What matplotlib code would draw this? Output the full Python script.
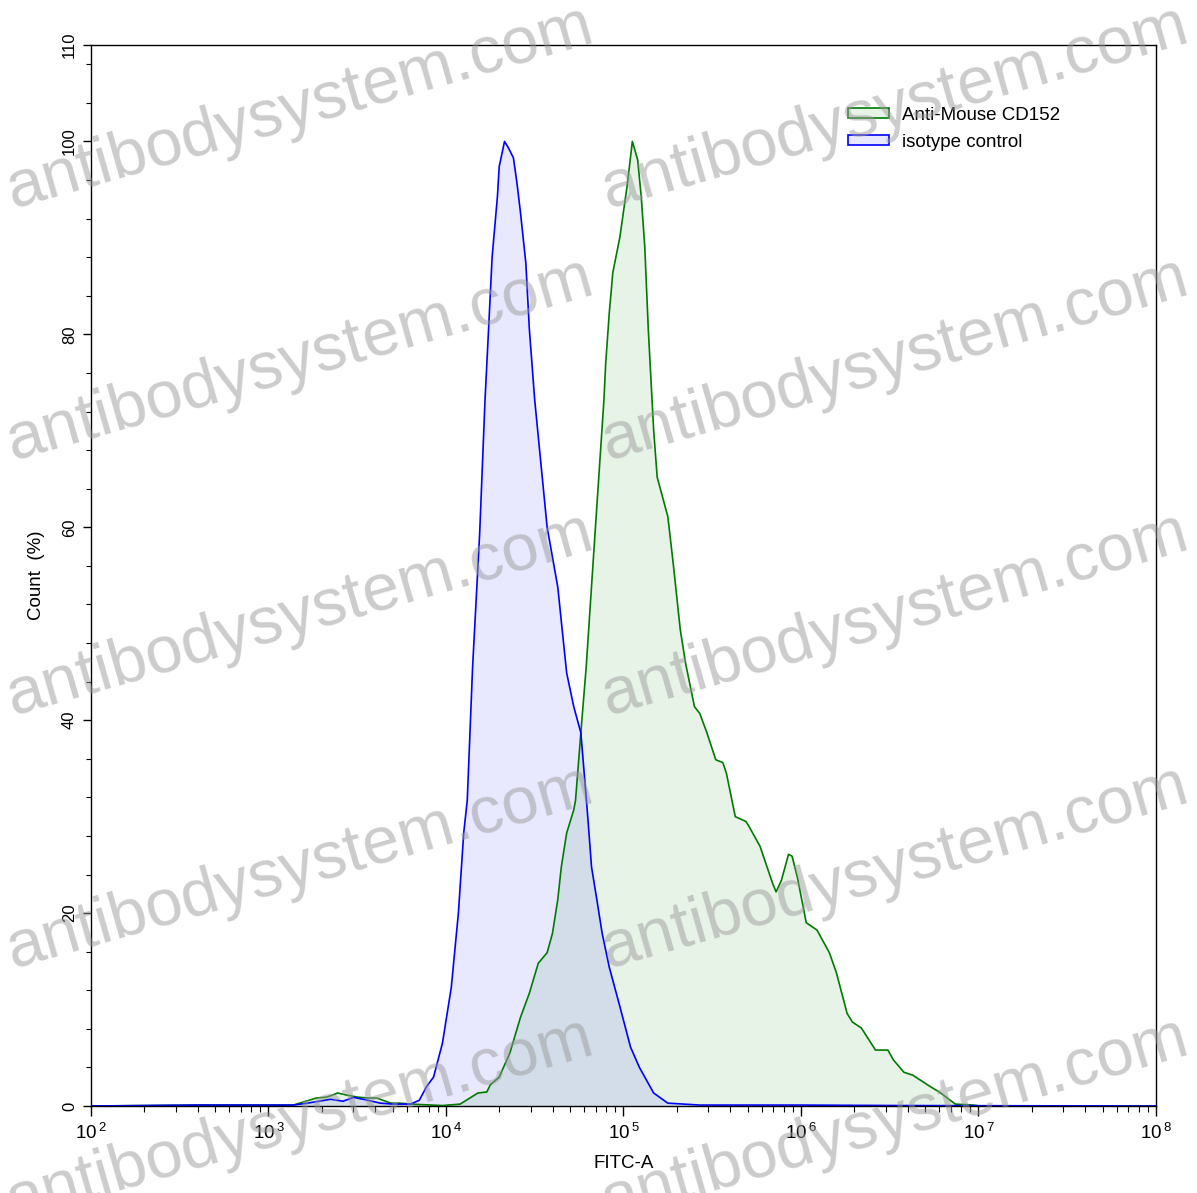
import matplotlib
matplotlib.use("Agg")
import matplotlib.pyplot as plt
from matplotlib.patches import Patch
from matplotlib.ticker import LogLocator, FuncFormatter
import numpy as np

plt.rcParams['font.family'] = ['Liberation Sans', 'DejaVu Sans']

# isotype control histogram (x as log10 of FITC-A, y = count %)
iso_exp = [2.0, 2.61, 3.14, 3.22, 3.35, 3.42, 3.48, 3.56, 3.63, 3.70, 3.80, 3.85, 3.89,
           3.93, 3.98, 4.03, 4.07, 4.10, 4.12, 4.15, 4.19, 4.22, 4.24, 4.26, 4.29, 4.30,
           4.33, 4.35, 4.38, 4.40, 4.42, 4.45, 4.47, 4.50, 4.57, 4.63, 4.68, 4.72, 4.76,
           4.79, 4.80, 4.82, 4.85, 4.88, 4.92, 4.98, 5.04, 5.09, 5.17, 5.25, 5.34, 5.43,
           5.71, 6.0, 6.56, 8.0]
iso_pct = [0.0, 0.1, 0.1, 0.3, 0.7, 0.5, 0.9, 0.6, 0.3, 0.2, 0.2, 0.6, 2.0,
           3.0, 6.5, 12.3, 20.0, 28.3, 31.7, 45.5, 59.4, 73.2, 80.5, 88.0, 94.3, 97.4,
           100.0, 99.4, 98.3, 95.7, 92.6, 87.4, 80.5, 73.2, 60.0, 53.8, 44.9, 41.4, 38.7,
           32.0, 29.7, 24.8, 21.4, 17.9, 14.4, 10.3, 6.1, 4.0, 1.35, 0.3, 0.2, 0.1,
           0.1, 0.1, 0.05, 0.0]

# Anti-Mouse CD152 histogram
cd_exp = [2.0, 2.61, 3.14, 3.27, 3.33, 3.39, 3.44, 3.50, 3.56, 3.61, 3.69, 3.74, 3.80,
          3.98, 4.08, 4.18, 4.23, 4.25, 4.30, 4.36, 4.42, 4.47, 4.52, 4.57, 4.60, 4.63,
          4.65, 4.68, 4.72, 4.73, 4.76, 4.79, 4.84, 4.89, 4.90, 4.92, 4.94, 4.98, 5.02,
          5.04, 5.05, 5.08, 5.10, 5.12, 5.14, 5.17, 5.19, 5.25, 5.28, 5.32, 5.35, 5.40,
          5.43, 5.47, 5.52, 5.56, 5.58, 5.63, 5.69, 5.71, 5.77, 5.84, 5.86, 5.89, 5.93,
          5.95, 5.98, 6.03, 6.09, 6.16, 6.20, 6.26, 6.29, 6.34, 6.42, 6.49, 6.52, 6.58,
          6.63, 6.73, 6.78, 6.87, 6.97, 7.01, 8.0]
cd_pct = [0.0, 0.1, 0.1, 0.83, 0.93, 1.35, 1.14, 0.93, 0.83, 0.83, 0.3, 0.3, 0.2,
          0.05, 0.2, 1.35, 1.45, 2.2, 3.0, 5.5, 9.2, 11.7, 14.8, 15.9, 17.9, 21.4,
          24.8, 28.3, 30.7, 31.7, 38.7, 45.5, 59.4, 73.2, 77.0, 82.2, 86.4, 90.1, 95.3,
          98.4, 100.0, 98.1, 94.3, 89.1, 80.5, 70.1, 65.2, 61.1, 56.3, 49.4, 45.9, 41.4,
          40.7, 38.7, 35.9, 35.6, 34.5, 30.0, 29.5, 28.9, 26.9, 23.1, 22.2, 23.4, 26.1,
          25.9, 23.7, 19.0, 18.25, 15.9, 13.8, 9.6, 8.7, 8.1, 5.8, 5.8, 4.8, 3.5,
          3.2, 2.0, 1.45, 0.2, 0.1, 0.0, 0.0]

labels = ["Anti-Mouse CD152", "isotype control"]
y_major = [0, 20, 40, 60, 80, 100, 110]

iso_x = 10 ** np.array(iso_exp)
cd_x = 10 ** np.array(cd_exp)

fig = plt.figure(figsize=(11.97, 11.93), dpi=100)
ax = fig.add_axes([0.0760, 0.0729, 0.8897, 0.8894])

ax.fill_between(cd_x, cd_pct, color=(0, 0.5, 0), alpha=0.09, lw=0)
ax.fill_between(iso_x, iso_pct, color=(0, 0, 1), alpha=0.09, lw=0)
ax.plot(cd_x, cd_pct, color='#007a00', lw=1.2)
ax.plot(iso_x, iso_pct, color='#0000ff', lw=1.2)

ax.set_xscale('log')
ax.set_xlim(1e2, 1e8)
ax.set_ylim(0, 110)
ax.xaxis.set_major_locator(LogLocator(base=10, numticks=10))
ax.xaxis.set_minor_locator(LogLocator(base=10, subs=np.arange(2, 10), numticks=20))
ax.xaxis.set_major_formatter(
    FuncFormatter(lambda v, p: r'$\mathdefault{10^{\,%d}}$' % round(np.log10(v))))
ax.set_yticks(y_major)
ax.set_yticks(np.arange(4, 110, 4), minor=True)

ax.tick_params(axis='x', which='major', length=7, width=1, labelsize=13.5, pad=5)
ax.tick_params(axis='x', which='minor', length=4, width=0.8)
ax.tick_params(axis='y', which='major', length=6, width=1, labelsize=12, pad=4,
               labelrotation=90)
ax.tick_params(axis='y', which='minor', length=3.5, width=0.8)
for lab in ax.get_yticklabels():
    lab.set_va('center')

for s in ax.spines.values():
    s.set_linewidth(1.0)

ax.set_xlabel('FITC-A', fontsize=13.5, labelpad=9)
ax.set_ylabel('Count  (%)', fontsize=13.5)
ax.yaxis.set_label_coords(-0.043, 0.5)

handles = [Patch(facecolor=(0, 0.5, 0, 0.09), edgecolor='#007a00', lw=1.2),
           Patch(facecolor=(0, 0, 1, 0.09), edgecolor='#0000ff', lw=1.2)]
ax.legend(handles, labels, loc='upper left', bbox_to_anchor=(0.711, 0.942),
          frameon=False, fontsize=13.5, handlelength=2.2, handleheight=0.45,
          handletextpad=0.65, labelspacing=0.56, borderpad=0, borderaxespad=0)

# watermark grid
for wx in [0.2506, 0.7477]:
    for wy in [0.9095, 0.698, 0.4845, 0.2724, 0.0612]:
        fig.text(wx, wy, 'antibodysystem.com', fontsize=48, color='#9a9a9a',
                 alpha=0.5, rotation=16, ha='center', va='center',
                 rotation_mode='anchor', zorder=10)

fig.savefig('out.png', dpi=100)
